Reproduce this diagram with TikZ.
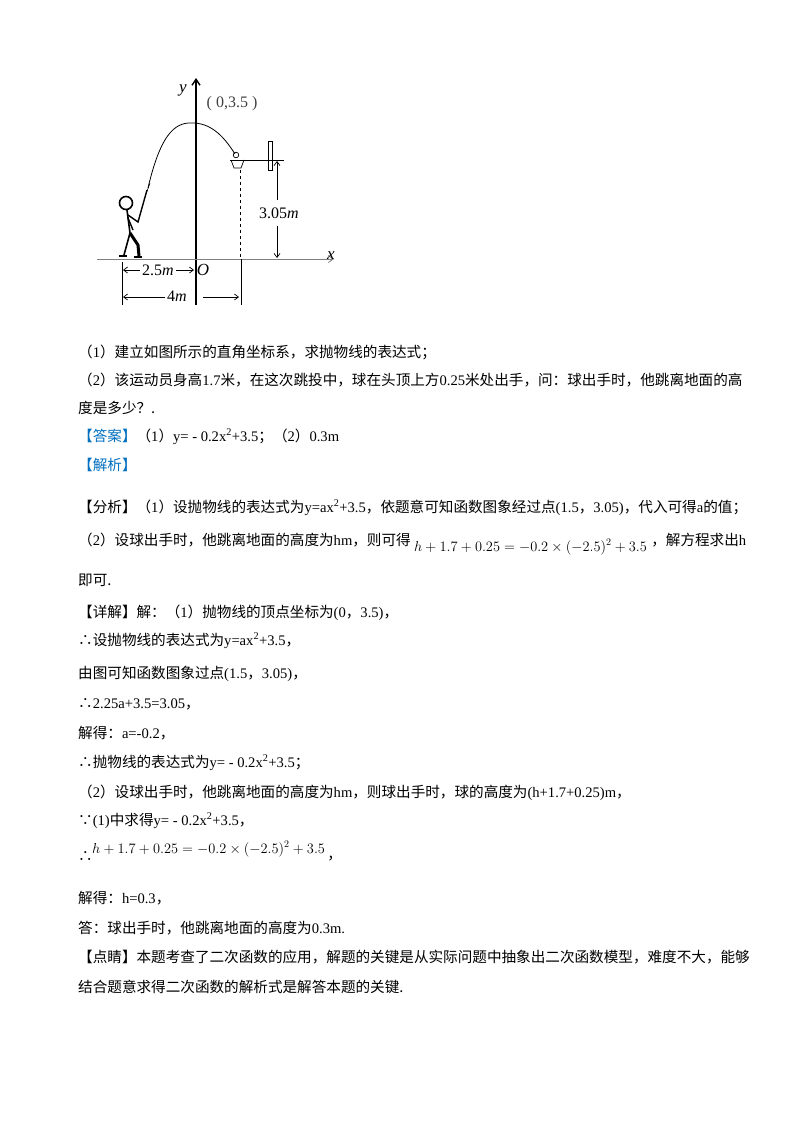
\documentclass[tikz,border=0pt]{standalone}
\usepackage{fontspec}
\setmainfont{Noto Sans CJK SC}
\newfontfamily\lat{Liberation Serif}
\newcommand{\Lt}[1]{{\lat #1}}
\usetikzlibrary{arrows.meta}
\definecolor{ansblue}{RGB}{0,112,192}
\tikzset{txt/.style={anchor=base west,inner sep=0pt,font=\fontsize{14.6}{17}\selectfont},
 fml/.style={anchor=base west,inner sep=0pt,font=\fontsize{14}{16}\selectfont},
 dim/.style={-{Straight Barb[length=4pt,width=6pt]},line width=0.7pt},
 lbl/.style={font=\lat\itshape\fontsize{17}{19}\selectfont,inner sep=0pt},
 dlbl/.style={inner sep=0pt,font=\lat\fontsize{16}{18}\selectfont}}
\begin{document}
\begin{tikzpicture}[x=1pt,y=-1pt]
\useasboundingbox (0,0) rectangle (800,1132);
\fill[white] (0,0) rectangle (800,1132);
% axes
\draw[line width=1.4pt,-{Straight Barb[length=6pt,width=8pt]}] (196,305) -- (196,78);
\draw[gray,line width=0.8pt,-{Straight Barb[length=5pt,width=7pt]}] (97,259) -- (334,259);
\node[lbl] (ylab) at (183,90) {y};
\node[lbl] (xlab) at (331,256) {x};
\node[lbl] (olab) at (203,270) {O};
\node[dlbl,text=darkgray] (vtx) at (232,104) {( 0,3.5 )};
% parabola
\draw[line width=0.8pt] (148,188) .. controls (162,128) and (178,122) .. (194,123) .. controls (214,124) and (226,140) .. (235,154);
\draw[line width=0.6pt] (150,183) -- (146,194);
% hoop
\draw[line width=0.7pt] (236,155) circle (2.8);
\draw[line width=0.7pt] (230,160) -- (284,160);
\draw[line width=0.7pt] (231,160) -- (234,168) -- (241,168) -- (244,160);
\draw[line width=0.7pt] (268,141) rectangle (272,170);
\draw[dashed,line width=0.7pt] (240,170) -- (240,259);
\draw[line width=0.7pt] (241,259) -- (241,305);
% 3.05 m
\coordinate (ht) at (277,161);
\coordinate (hb) at (277,258);
\node[dlbl] (h305) at (279,213) {3.05\textit{m}};
\draw[dim] (277,200) -- (ht);
\draw[dim] (277,226) -- (hb);
% horizontal dims
\draw[line width=0.7pt] (122,262) -- (122,305);
\node[dlbl] (d25) at (158,270) {2.5\textit{m}};
\draw[dim] (140,270) -- (123,270);
\draw[dim] (176,270) -- (194,270);
\node[dlbl] (d4) at (177,296) {4\textit{m}};
\draw[dim] (165,297) -- (123,297);
\draw[dim] (203,297) -- (239,297);
% stick figure
\draw[line width=1.6pt] (126,203) circle (6.5);
\draw[line width=1.6pt] (127,210) -- (130,233) -- (124,255);
\draw[line width=3pt] (130,233) -- (138,245) -- (139,256);
\draw[line width=1.4pt] (128,215) -- (138,222) -- (147,190);
\draw[line width=1.4pt] (128,218) -- (133,230);
\draw[line width=2.4pt] (119,256) -- (127,256);
\draw[line width=2.4pt] (134,257) -- (142,257);
% text
\node[txt] (t1) at (78,357) {（\Lt{1}）建立如图所示的直角坐标系，求抛物线的表达式；};
\node[txt] (t2) at (78,385) {（\Lt{2}）该运动员身高\Lt{1.7}米，在这次跳投中，球在头顶上方\Lt{0.25}米处出手，问：球出手时，他跳离地面的高};
\node[txt] (t3) at (78,413) {度是多少？.};
\node[txt] (t4) at (78,441) {\textcolor{ansblue}{【答案】}（\Lt{1}）\Lt{y= - 0.2x\textsuperscript{2}+3.5}；（\Lt{2}）\Lt{0.3m}};
\node[txt] (t5) at (78,470) {\textcolor{ansblue}{【解析】}};
\node[txt] (t6) at (78,512) {【分析】（\Lt{1}）设抛物线的表达式为\Lt{y=ax\textsuperscript{2}+3.5}，依题意可知函数图象经过点\Lt{(1.5}，\Lt{3.05)}，代入可得\Lt{a}的值；};
\node[txt] (t7) at (78,545) {（\Lt{2}）设球出手时，他跳离地面的高度为\Lt{hm}，则可得};
\node[fml,anchor=base west] (t7b) at ([xshift=3pt,yshift=-6pt]t7.base east) {$h+1.7+0.25=-0.2\times(-2.5)^2+3.5$};
\node[txt] (t7c) at ([xshift=4pt]t7.base east -| t7b.east) {，解方程求出\Lt{h}};
\node[txt] (t8) at (78,585) {即可.};
\node[txt] (t9) at (78,617) {【详解】解：（\Lt{1}）抛物线的顶点坐标为\Lt{(0}，\Lt{3.5)}，};
\node[txt] (t10) at (78,645) {∴设抛物线的表达式为\Lt{y=ax\textsuperscript{2}+3.5}，};
\node[txt] (t11) at (78,678) {由图可知函数图象过点\Lt{(1.5}，\Lt{3.05)}，};
\node[txt] (t12) at (78,708) {∴\Lt{2.25a+3.5=3.05}，};
\node[txt] (t13) at (78,738) {解得：\Lt{a=-0.2}，};
\node[txt] (t14) at (78,767) {∴抛物线的表达式为\Lt{y= - 0.2x\textsuperscript{2}+3.5}；};
\node[txt] (t15) at (78,797) {（\Lt{2}）设球出手时，他跳离地面的高度为\Lt{hm}，则球出手时，球的高度为\Lt{(h+1.7+0.25)m}，};
\node[txt] (t16) at (78,825) {∵\Lt{(1)}中求得\Lt{y= - 0.2x\textsuperscript{2}+3.5}，};
\node[txt] (t17) at (78,861) {∴};
\node[fml] (t17b) at (92,853) {$h+1.7+0.25=-0.2\times(-2.5)^2+3.5$};
\node[txt] (t17c) at ([xshift=2pt]t17b.east |- 0,859) {，};
\node[txt] (t18) at (78,903) {解得：\Lt{h=0.3}，};
\node[txt] (t19) at (78,933) {答：球出手时，他跳离地面的高度为\Lt{0.3m.}};
\node[txt] (t20) at (78,962) {【点睛】本题考查了二次函数的应用，解题的关键是从实际问题中抽象出二次函数模型，难度不大，能够};
\node[txt] (t21) at (78,992) {结合题意求得二次函数的解析式是解答本题的关键.};
\end{tikzpicture}
\end{document}
